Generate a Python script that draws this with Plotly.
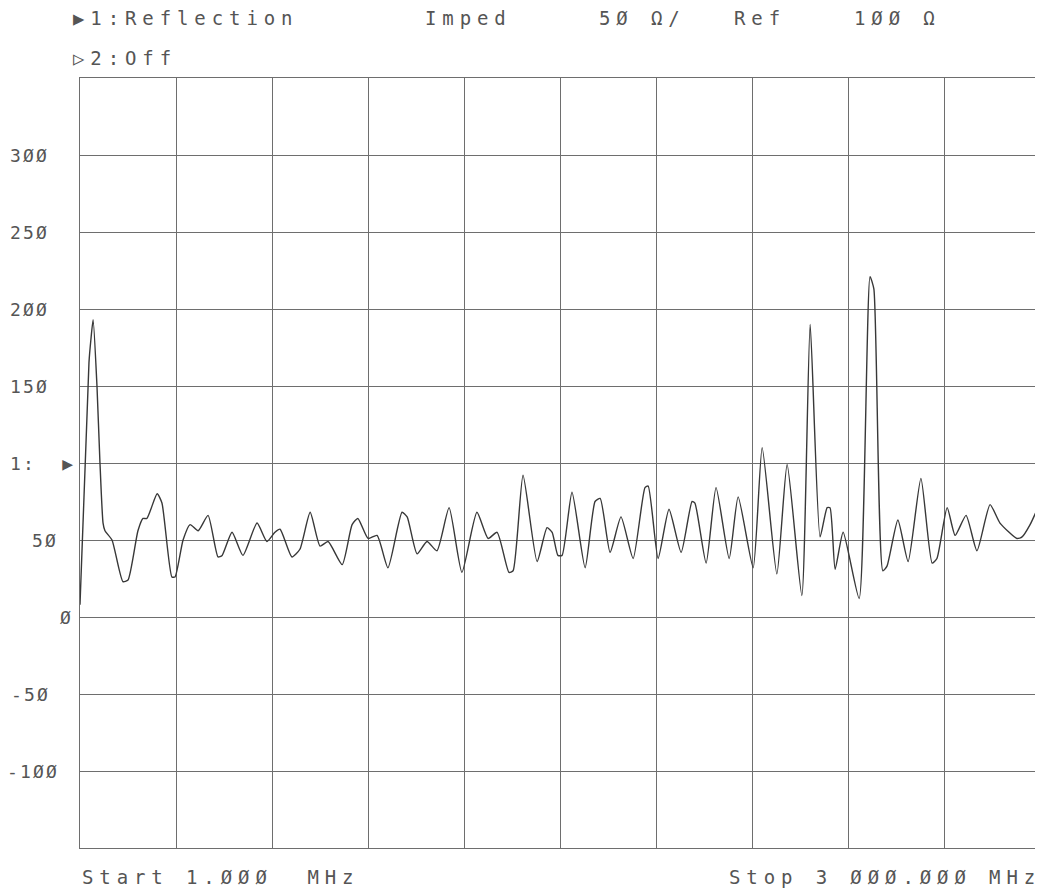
import numpy as np
import plotly.graph_objects as go

# ---- data (frequency in MHz, impedance in ohms) ----
freq_mhz = [1, 29, 35, 42, 54, 63, 73, 79, 101, 135, 151, 182, 198, 210, 242, 257, 288, 298,
            323, 345, 370, 401, 432, 445, 476, 510, 554, 585, 610, 626, 663, 688, 720, 751,
            776, 820, 851, 869, 901, 929, 963, 1007, 1023, 1054, 1085, 1116, 1154, 1194,
            1241, 1276, 1304, 1341, 1354, 1385, 1429, 1460, 1476, 1494, 1507, 1538, 1579,
            1610, 1626, 1657, 1691, 1729, 1766, 1776, 1807, 1841, 1879, 1913, 1922, 1957,
            1988, 2029, 2057, 2104, 2132, 2178, 2210, 2256, 2282, 2313, 2335, 2344, 2360,
            2385, 2435, 2469, 2481, 2509, 2522, 2556, 2588, 2628, 2663, 2678, 2710, 2735,
            2769, 2803, 2844, 2875, 2928, 2944, 2969, 3000]
imped_ohm = [8, 165, 180, 193, 150, 102, 61, 56, 50, 23, 24, 56, 64, 64, 80, 74, 26, 26,
             50, 60, 56, 66, 39, 40, 55, 40, 61, 49, 55, 57, 39, 44, 68, 46,
             49, 34, 60, 64, 51, 53, 32, 68, 65, 41, 49, 43, 71, 29,
             68, 51, 55, 29, 30, 92, 36, 58, 55, 40, 40, 81, 32,
             75, 77, 42, 65, 38, 84, 85, 38, 70, 42, 75, 74, 35,
             84, 38, 78, 32, 110, 28, 99, 14, 190, 52, 71, 71, 31,
             55, 12, 221, 213, 30, 33, 63, 36, 90, 35, 38, 71, 53,
             66, 43, 73, 61, 51, 52, 60, 74]

x_start, x_stop = 1.0, 3000.0
y_min, y_max = -150, 350
y_tick_vals = [300, 250, 200, 150, 100, 50, 0, -50, -100]
y_tick_text = ["3ØØ", "25Ø", "2ØØ", "15Ø", "1:  ▶", "5Ø", "Ø", "-5Ø", "-1ØØ"]
y_label_left_px = [8, 8, 8, 8, 8, 30, 58, 9, 5]

header_top = ["▶1:Reflection", "Imped", "5Ø Ω/", "Ref", "1ØØ Ω"]
header_top_px = [71, 423, 597, 732, 852]
header_second = "▷2:Off"
footer_texts = ["Start 1.ØØØ  MHz", "Stop 3 ØØØ.ØØØ MHz"]
footer_px = [80, 727]

# ---- figure (page body has an 8px default margin, so compensate) ----
OFF = 8
W, H = 1043 - OFF, 890 - OFF
ML, MR, MT, MB = 80 - OFF, 3, 78 - OFF, 42
PW, PH = W - ML - MR, H - MT - MB
PLOT_L, PLOT_B = 80, 848  # plot edges in page pixels

FONT = "DejaVu Sans Mono"
TXT = "#555555"
GRID = "#6e6e6e"

fig = go.Figure()
fig.add_trace(go.Scatter(
    x=freq_mhz, y=imped_ohm, mode="lines",
    line=dict(color="#383838", width=1.4, shape="spline", smoothing=0.55),
    hoverinfo="skip", showlegend=False))

def px_x(p):
    return (p - PLOT_L) / PW

def px_y(p):
    return (PLOT_B - p) / PH

def spaced(s, ls):
    return '<span style="letter-spacing:%.1fpx">%s</span>' % (ls, s)

ann = []
for t, p in zip(header_top, header_top_px):
    ann.append(dict(text=spaced(t, 5.9), x=px_x(p), y=px_y(18), xref="paper", yref="paper",
                    xanchor="left", yanchor="middle", showarrow=False,
                    font=dict(family=FONT, size=19, color=TXT)))
ann.append(dict(text=spaced(header_second, 5.9), x=px_x(71), y=px_y(58), xref="paper",
                yref="paper", xanchor="left", yanchor="middle", showarrow=False,
                font=dict(family=FONT, size=19, color=TXT)))
for t, p in zip(footer_texts, footer_px):
    ann.append(dict(text=spaced(t, 5.9), x=px_x(p), y=px_y(877), xref="paper", yref="paper",
                    xanchor="left", yanchor="middle", showarrow=False,
                    font=dict(family=FONT, size=19, color=TXT)))
for v, t, p in zip(y_tick_vals, y_tick_text, y_label_left_px):
    ann.append(dict(text=spaced(t, 2.2), x=px_x(p), y=v, xref="paper", yref="y",
                    xanchor="left", yanchor="middle", showarrow=False,
                    font=dict(family=FONT, size=18, color=TXT)))

x_grid = list(np.linspace(x_start, x_stop, 11))

fig.update_layout(
    width=W, height=H, autosize=False,
    margin=dict(l=ML, r=MR, t=MT, b=MB, pad=0),
    paper_bgcolor="white", plot_bgcolor="white",
    annotations=ann,
    xaxis=dict(range=[x_start, x_stop], tickvals=x_grid, showticklabels=False,
               showgrid=True, gridcolor=GRID, gridwidth=1, zeroline=False,
               showline=True, linecolor=GRID, linewidth=1.2, mirror=True, ticks=""),
    yaxis=dict(range=[y_min, y_max], tickvals=list(range(y_min, y_max + 1, 50)),
               showticklabels=False, showgrid=True, gridcolor=GRID, gridwidth=1,
               zeroline=False, showline=True, linecolor=GRID, linewidth=1.2,
               mirror=True, ticks=""),
)

fig.write_html("out.html")
